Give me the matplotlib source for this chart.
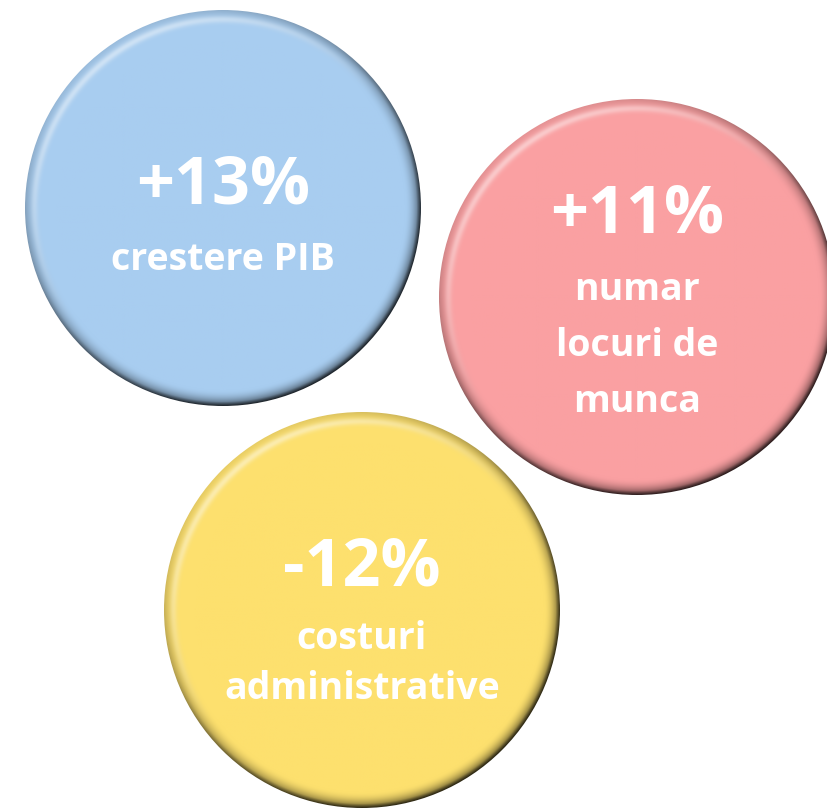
import numpy as np
import matplotlib.pyplot as plt
from matplotlib.patches import Circle
from matplotlib.colors import to_rgb

# values shown in the bubbles
values = ['+13%', '+11%', '-12%']
captions = ['crestere PIB', 'numar\nlocuri de\nmunca', 'costuri\nadministrative']
colors = ['#A8CDF0', '#FAA0A2', '#FDE06E']

# layout (pixels, y down)
centers = [(223, 208), (637, 297), (362, 610)]
radius = 198
value_offset = [-22, -82, -42]
caption_offset = [55, 56, 52]
line_gap = [1.2, 1.62, 1.42]

plt.rcParams['font.family'] = ['Open Sans', 'DejaVu Sans']

fig = plt.figure(figsize=(8.28, 8.10), dpi=100)
ax = fig.add_axes([0, 0, 1, 1])
ax.set_xlim(0, 828)
ax.set_ylim(810, 0)
ax.set_aspect('equal')
ax.axis('off')


def bubble(ax, cx, cy, r, color):
    n = 400
    xs = np.linspace(cx - r, cx + r, n)
    ys = np.linspace(cy - r, cy + r, n)
    X, Y = np.meshgrid(xs, ys)
    dx, dy = X - cx, Y - cy
    d = np.sqrt(dx ** 2 + dy ** 2) / r
    dn = np.maximum(d, 1e-6)
    nx, ny = dx / (dn * r), dy / (dn * r)
    facing = nx * (-0.6) + ny * (-0.8)
    base = np.array(to_rgb(color))
    edge = np.clip((d - 0.92) / 0.08, 0, 1)
    dark = edge ** 2 * (0.38 - 0.3 * facing)
    img = base[None, None, :] * (1 - dark[..., None])
    # darker rim on the shadow side
    rim = np.clip((d - 0.98) / 0.02, 0, 1) * np.clip(-facing + 0.3, 0, 1)
    img = img * (1 - 0.45 * rim[..., None])
    # soft highlight ring on the lit side
    hl = np.exp(-((d - 0.955) / 0.018) ** 2) * np.clip(facing, 0, 1) * 0.45
    img = img * (1 - hl[..., None]) + hl[..., None]
    img = np.clip(img, 0, 1)
    im = ax.imshow(img, extent=[cx - r, cx + r, cy + r, cy - r], interpolation='bilinear', zorder=2)
    clip = Circle((cx, cy), r, transform=ax.transData)
    im.set_clip_path(clip)


for (cx, cy), c in zip(centers, colors):
    bubble(ax, cx, cy, radius, c)

for (cx, cy), v, cap, vo, co, ls in zip(centers, values, captions, value_offset, caption_offset, line_gap):
    ax.text(cx, cy + vo, v, ha='center', va='center', color='white',
            fontsize=48, fontweight='bold', zorder=5)
    ax.text(cx, cy + vo + co, cap, ha='center', va='top', color='white',
            fontsize=27, fontweight='bold', linespacing=ls, zorder=5)

fig.savefig('out.png', dpi=100, facecolor='white')
